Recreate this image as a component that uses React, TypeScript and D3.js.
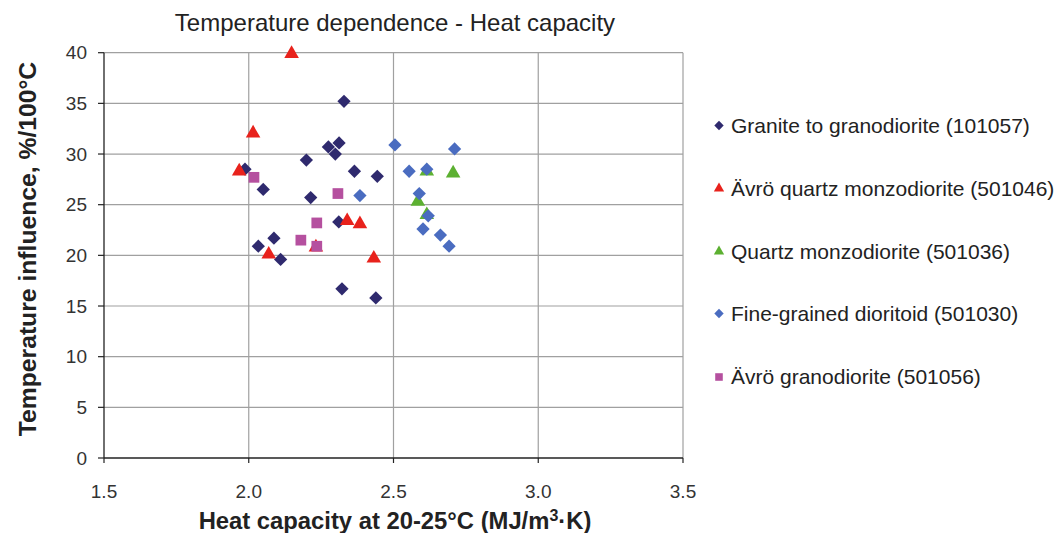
import * as d3 from "d3";

const X_TICKS = [1.5, 2.0, 2.5, 3.0, 3.5];
const Y_TICKS = [0, 5, 10, 15, 20, 25, 30, 35, 40];

const GRANITE_X = [1.987, 2.05, 2.199, 2.214, 2.275, 2.312, 2.299, 2.329, 2.365, 2.444, 2.311, 2.087, 2.033, 2.11, 2.322, 2.439];
const GRANITE_Y = [28.5, 26.5, 29.4, 25.7, 30.7, 31.1, 30.0, 35.2, 28.3, 27.8, 23.3, 21.7, 20.9, 19.6, 16.7, 15.8];

const AVRO_QM_X = [2.148, 2.015, 1.967, 2.34, 2.384, 2.069, 2.232, 2.432];
const AVRO_QM_Y = [39.9, 32.05, 28.3, 23.4, 23.1, 20.1, 20.8, 19.7];

const QM_X = [2.615, 2.706, 2.584, 2.615];
const QM_Y = [28.3, 28.1, 25.3, 24.0];

const DIORITOID_X = [2.505, 2.711, 2.554, 2.615, 2.589, 2.384, 2.62, 2.602, 2.662, 2.692];
const DIORITOID_Y = [30.9, 30.5, 28.3, 28.5, 26.1, 25.9, 23.9, 22.6, 22.0, 20.9];

const AVRO_GD_X = [2.018, 2.308, 2.235, 2.18, 2.235];
const AVRO_GD_Y = [27.7, 26.1, 23.2, 21.5, 20.9];

type Shape = "diamond" | "triangle" | "square";

const SERIES: { name: string; color: string; shape: Shape; xs: number[]; ys: number[] }[] = [
  { name: "Granite to granodiorite (101057)", color: "#2f2a6e", shape: "diamond", xs: GRANITE_X, ys: GRANITE_Y },
  { name: "Ävrö quartz monzodiorite (501046)", color: "#e8221c", shape: "triangle", xs: AVRO_QM_X, ys: AVRO_QM_Y },
  { name: "Quartz monzodiorite (501036)", color: "#5cb031", shape: "triangle", xs: QM_X, ys: QM_Y },
  { name: "Fine-grained dioritoid (501030)", color: "#4a6cc0", shape: "diamond", xs: DIORITOID_X, ys: DIORITOID_Y },
  { name: "Ävrö granodiorite (501056)", color: "#b5509f", shape: "square", xs: AVRO_GD_X, ys: AVRO_GD_Y },
];

const FONT = "'Liberation Sans', Arial, sans-serif";

function symbolPath(shape: Shape, big: boolean) {
  const k = big ? 1 : 0.5;
  if (shape === "triangle") return d3.symbol(d3.symbolTriangle, 92 * k)()!;
  if (shape === "square") return d3.symbol(d3.symbolSquare, 115 * k)()!;
  return d3.symbol(d3.symbolSquare, 88 * k)()!;
}

function Marker({ shape, color, x, y, big }: { shape: Shape; color: string; x: number; y: number; big: boolean }) {
  const rot = shape === "diamond" ? " rotate(45)" : "";
  return <path d={symbolPath(shape, big)} fill={color} transform={`translate(${x},${y})${rot}`} />;
}

export default function App() {
  const width = 1063;
  const height = 533;
  const margin = { left: 104, right: 1063 - 683, top: 52.7, bottom: 533 - 458 };

  const x = d3.scaleLinear().domain([1.5, 3.5]).range([margin.left, width - margin.right]);
  const y = d3.scaleLinear().domain([0, 40]).range([height - margin.bottom, margin.top]);

  const legendY = [125.5, 188.5, 251.5, 313.5, 377];

  return (
    <svg width={width} height={height} style={{ position: "absolute", left: 0, top: 0, background: "#fff" }}>
      {/* grid */}
      {Y_TICKS.filter((t) => t > 0).map((t) => (
        <line key={"gy" + t} x1={x(1.5)} x2={x(3.5)} y1={y(t)} y2={y(t)} stroke="#a0a0a0" strokeWidth={1.2} />
      ))}
      {X_TICKS.filter((t) => t > 1.5).map((t) => (
        <line key={"gx" + t} x1={x(t)} x2={x(t)} y1={y(0)} y2={y(40)} stroke="#a0a0a0" strokeWidth={1.2} />
      ))}

      {/* axes */}
      <line x1={x(1.5)} x2={x(1.5)} y1={y(0)} y2={y(40)} stroke="#222" strokeWidth={1.3} />
      <line x1={x(1.5)} x2={x(3.5)} y1={y(0)} y2={y(0)} stroke="#222" strokeWidth={1.3} />
      {Y_TICKS.map((t) => (
        <g key={"ty" + t}>
          <line x1={x(1.5) - 6} x2={x(1.5)} y1={y(t)} y2={y(t)} stroke="#222" strokeWidth={1.2} />
          <text x={x(1.5) - 17} y={y(t)} dy="0.35em" textAnchor="end" fontFamily={FONT} fontSize={19} fill="#333">
            {t}
          </text>
        </g>
      ))}
      {X_TICKS.map((t) => (
        <g key={"tx" + t}>
          <line x1={x(t)} x2={x(t)} y1={y(0)} y2={y(0) + 5} stroke="#222" strokeWidth={1.2} />
          <text x={x(t)} y={498} textAnchor="middle" fontFamily={FONT} fontSize={19} fill="#333">
            {t.toFixed(1)}
          </text>
        </g>
      ))}

      {/* points */}
      {SERIES.map((s) => (
        <g key={s.name}>
          {s.xs.map((v, i) => (
            <Marker key={i} shape={s.shape} color={s.color} x={x(v)} y={y(s.ys[i])} big />
          ))}
        </g>
      ))}

      {/* titles */}
      <text x={395} y={30.5} textAnchor="middle" fontFamily={FONT} fontSize={24} fill="#222">
        Temperature dependence - Heat capacity
      </text>
      <text
        transform="translate(36,249) rotate(-90)"
        textAnchor="middle"
        fontFamily={FONT}
        fontSize={24.7}
        fontWeight="bold"
        fill="#222"
      >
        Temperature influence, %/100°C
      </text>
      <text x={395} y={529} textAnchor="middle" fontFamily={FONT} fontSize={23.8} fontWeight="bold" fill="#222">
        Heat capacity at 20-25°C (MJ/m<tspan dy={-8} fontSize={16}>3</tspan><tspan dy={8}>·K)</tspan>
      </text>

      {/* legend */}
      {SERIES.map((s, i) => (
        <g key={"lg" + i}>
          <Marker shape={s.shape} color={s.color} x={719} y={legendY[i]} big={false} />
          <text x={731} y={legendY[i]} dy="0.35em" fontFamily={FONT} fontSize={21} fill="#222">
            {s.name}
          </text>
        </g>
      ))}
    </svg>
  );
}
